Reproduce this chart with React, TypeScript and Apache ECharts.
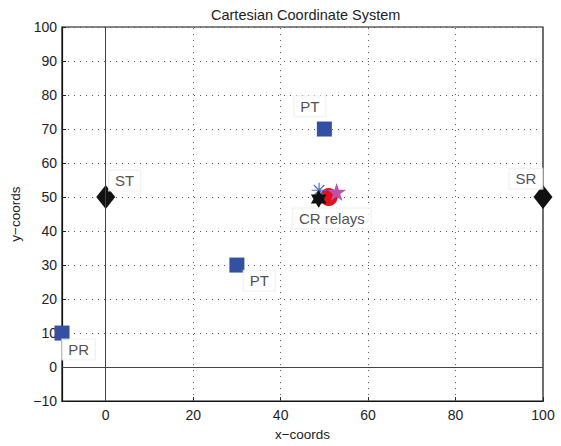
import React, { useEffect, useRef } from "react";
import * as echarts from "echarts";

const squarePoints: [number, number][] = [[-10, 10], [50, 70], [30, 30]];
const diamondPoints: [number, number][] = [[0, 50], [100, 50]];
const redCircle: [number, number][] = [[51, 50]];
const magentaStar: [number, number][] = [[52.8, 51.5]];
const blueAsterisk: [number, number][] = [[48.8, 52]];
const blackHexagram: [number, number][] = [[48.7, 49.4]];
const labelNames = ["PT", "ST", "SR", "PT", "PR", "CR relays"];
const labelX = [46.7, 4.3, 96.1, 35.1, -6.2, 51.7];
const labelY = [76.7, 54.9, 55.4, 25.4, 5.2, 43.7];
const xTicks = [0, 20, 40, 60, 80, 100];
const xGrid = [20, 40, 60, 80];

const FONT = "'Liberation Sans', Arial, Helvetica, sans-serif";

const HEX = "path://M50 0 L64.4 25 L93.3 25 L78.9 50 L93.3 75 L64.4 75 L50 100 L35.6 75 L6.7 75 L21.1 50 L6.7 25 L35.6 25 Z";
const PENT = "path://M50 0 L61.2 34.5 L97.6 34.5 L68.2 55.9 L79.4 90.5 L50 69.1 L20.6 90.5 L31.8 55.9 L2.4 34.5 L38.8 34.5 Z";
const AST = "path://M50 0 L50 100 M0 50 L100 50 M15 15 L85 85 M85 15 L15 85";

export default function App() {
  const ref = useRef<HTMLDivElement>(null);
  useEffect(() => {
    if (!ref.current) return;
    const chart = echarts.init(ref.current, undefined, { renderer: "svg" });
    const minus = (v: number) => String(v).replace("-", "\u2212");
    chart.setOption({
      animation: false,
      backgroundColor: "#fff",
      textStyle: { fontFamily: FONT },
      title: {
        text: "Cartesian Coordinate System",
        left: 206,
        top: 2,
        textStyle: { fontSize: 14.5, fontWeight: "normal", color: "#222", fontFamily: FONT },
      },
      grid: { left: 60, right: 18, top: 27, bottom: 42, show: true, borderColor: "#111", borderWidth: 1.2, backgroundColor: "transparent" },
      xAxis: {
        type: "value",
        min: -10,
        max: 100,
        interval: 10,
        name: "x\u2212coords",
        nameLocation: "middle",
        nameGap: 24,
        nameTextStyle: { fontSize: 13.5, color: "#222", fontFamily: FONT },
        axisLine: { show: true, onZero: false, lineStyle: { color: "#111", width: 1.2 } },
        axisTick: { show: true, inside: true, length: 4, customValues: xTicks, lineStyle: { color: "#222" } },
        axisLabel: {
          customValues: xTicks,
          fontSize: 14,
          color: "#222",
          margin: 7,
          formatter: (v: number) => (v % 20 === 0 ? minus(v) : ""),
        },
        splitLine: { show: false },
      },
      yAxis: {
        type: "value",
        min: -10,
        max: 100,
        interval: 10,
        name: "y\u2212coords",
        nameLocation: "middle",
        nameGap: 40,
        nameTextStyle: { fontSize: 13.5, color: "#222", fontFamily: FONT },
        axisLine: { show: true, onZero: false, lineStyle: { color: "#111", width: 1.2 } },
        axisTick: { show: true, inside: true, length: 4, lineStyle: { color: "#222" } },
        axisLabel: { fontSize: 14, color: "#222", margin: 5, formatter: (v: number) => minus(v) },
        splitLine: { show: true, lineStyle: { color: "#555", type: [1, 5], width: 1 } },
      },
      series: [
        {
          type: "scatter",
          data: [],
          silent: true,
          markLine: {
            silent: true,
            symbol: "none",
            label: { show: false },
            data: [
              ...xGrid.map((x) => ({ xAxis: x, lineStyle: { color: "#555", type: [1, 5], width: 1 } })),
              { xAxis: 0, lineStyle: { color: "#444", type: "solid", width: 1 } },
              { yAxis: 0, lineStyle: { color: "#444", type: "solid", width: 1 } },
            ],
          },
        },
        {
          type: "scatter",
          data: squarePoints,
          symbol: "rect",
          symbolSize: 15,
          itemStyle: { color: "#3350a2", opacity: 1 },
          z: 3,
        },
        {
          type: "scatter",
          data: diamondPoints,
          symbol: "diamond",
          symbolSize: [19, 24],
          itemStyle: { color: "#111", opacity: 1 },
          z: 3,
        },
        {
          type: "scatter",
          data: redCircle,
          symbol: "circle",
          symbolSize: 18,
          itemStyle: { color: "#e3101a", opacity: 1 },
          z: 3,
        },
        {
          type: "scatter",
          data: magentaStar,
          symbol: PENT,
          symbolKeepAspect: true,
          symbolSize: 19,
          itemStyle: { color: "#c050a8", opacity: 1 },
          z: 4,
        },
        {
          type: "scatter",
          data: blueAsterisk,
          symbol: AST,
          symbolKeepAspect: true,
          symbolSize: 15,
          itemStyle: { color: "#5070c0", borderColor: "#5070c0", borderWidth: 1.2, opacity: 1 },
          z: 5,
        },
        {
          type: "scatter",
          data: blackHexagram,
          symbol: HEX,
          symbolKeepAspect: true,
          symbolSize: 18,
          itemStyle: { color: "#111", opacity: 1 },
          z: 6,
        },
        {
          type: "scatter",
          data: labelNames.map((n, i) => ({ name: n, value: [labelX[i], labelY[i]] })),
          symbolSize: 1,
          itemStyle: { color: "transparent" },
          z: 7,
          label: {
            show: true,
            position: "inside",
            formatter: (p: any) => p.name,
            fontSize: 15,
            color: "#222",
            fontFamily: FONT,
            backgroundColor: "#fff",
            borderColor: "#eeeeee",
            borderWidth: 1,
            padding: [3, 6, 2, 6],
          },
        },
      ],
    });
    return () => chart.dispose();
  }, []);
  return <div ref={ref} style={{ position: "absolute", left: 0, top: 0, width: 561, height: 446 }} />;
}
